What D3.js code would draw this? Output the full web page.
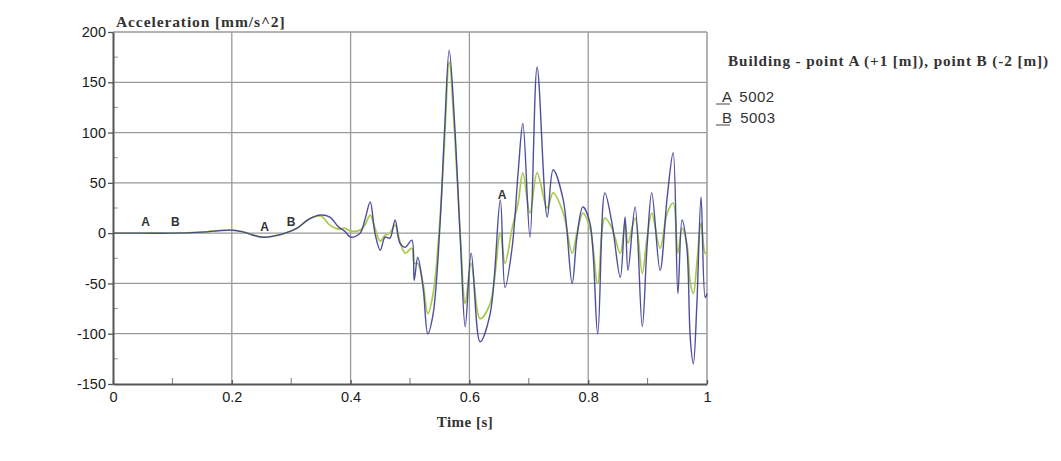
<!DOCTYPE html>
<html><head><meta charset="utf-8">
<script src="https://cdn.jsdelivr.net/npm/d3@7"></script>
<style>body{margin:0;background:#fff}svg{display:block}</style>
</head><body>
<svg id="c" width="1061" height="461"></svg>
<script>
const time = [0,0.05,0.1,0.15,0.2,0.22,0.25,0.27,0.29,0.31,0.33,0.35,0.365,0.38,0.39,0.4,0.416,0.424,0.433,0.441,0.45,0.458,0.466,0.475,0.483,0.492,0.503,0.507,0.513,0.522,0.53,0.539,0.55,0.558,0.566,0.575,0.585,0.593,0.603,0.618,0.635,0.652,0.66,0.672,0.682,0.69,0.702,0.714,0.731,0.741,0.758,0.773,0.781,0.791,0.803,0.816,0.828,0.84,0.854,0.862,0.867,0.879,0.891,0.899,0.907,0.921,0.933,0.943,0.951,0.958,0.966,0.972,0.977,0.983,0.99,0.997,1.0];
const accelA = [0,0,0,1,3,1,-4,-3,0,5,14,18,16,6,2,-4,0,13,31,0,-17,-4,-5,13,-10,-14,-7,-47,-24,-54,-100,-80,3,100,182,110,-10,-93,-20,-108,-80,33,-54,-14,60,109,-4,165,16,63,33,-50,-4,26,10,-100,40,10,-44,16,-37,26,-93,-14,40,-37,36,80,-60,13,-14,-106,-130,-70,36,-64,-60];
const accelB = [0,0,0,1,3,1,-4,-3,0,5,14,17,8,4,5,2,3,8,18,5,-8,-2,0,8,-8,-20,-15,-30,-30,-50,-80,-60,10,90,170,100,-5,-70,-30,-85,-70,0,-30,5,30,60,20,60,25,40,20,-20,0,20,5,-50,15,5,-20,10,-10,15,-40,-5,20,-15,20,30,-20,5,-10,-50,-60,-30,10,-20,-20];
const xTicks = [0,0.2,0.4,0.6,0.8,1];
const xTickLabels = ["0","0.2","0.4","0.6","0.8","1"];
const yTicks = [200,150,100,50,0,-50,-100,-150];
const curveLabelTimes = [0.055,0.105,0.255,0.3,0.655];
const curveLabelValues = [6,6,1,6,33];
const curveLabelText = ["A","B","A","B","A"];
const seriesNames = ["A 5002","B 5003"];

const svg = d3.select("#c");
const L=113,R=707,T=32,B=384;
const x = d3.scaleLinear().domain([0,1]).range([L,R]);
const y = d3.scaleLinear().domain([-150,200]).range([B,T]);
const grid="#9a9a9a";

svg.append("g").selectAll("line").data(xTicks.slice(1,-1)).join("line")
  .attr("x1",d=>x(d)).attr("x2",d=>x(d)).attr("y1",T).attr("y2",B)
  .attr("stroke",grid).attr("stroke-width",1.3);
svg.append("g").selectAll("line").data(yTicks.slice(1,-1)).join("line")
  .attr("x1",L).attr("x2",R).attr("y1",d=>y(d)).attr("y2",d=>y(d))
  .attr("stroke",grid).attr("stroke-width",1.3);
svg.append("line").attr("x1",L).attr("x2",R).attr("y1",T).attr("y2",T).attr("stroke",grid).attr("stroke-width",1.5);
svg.append("line").attr("x1",R).attr("x2",R).attr("y1",T).attr("y2",B).attr("stroke",grid).attr("stroke-width",1.5);

const xMinor = d3.range(0.1,1,0.2);
svg.append("g").selectAll("line").data(xMinor).join("line")
  .attr("x1",d=>x(d)).attr("x2",d=>x(d)).attr("y1",B).attr("y2",B-6)
  .attr("stroke","#777").attr("stroke-width",1);
const yMinor = d3.range(-125,200,50);
svg.append("g").selectAll("line").data(yMinor).join("line")
  .attr("x1",L).attr("x2",L+5).attr("y1",d=>y(d)).attr("y2",d=>y(d))
  .attr("stroke","#999").attr("stroke-width",1);

const lineGen = (arr)=>d3.line().curve(d3.curveCatmullRom.alpha(0.5)).x((d,i)=>x(time[i])).y((d,i)=>y(arr[i]));
svg.append("path").attr("d",lineGen(accelB)(accelB))
  .attr("fill","none").attr("stroke","#a9c94a").attr("stroke-width",1.7).attr("stroke-linejoin","round");
svg.append("path").attr("d",lineGen(accelA)(accelA))
  .attr("fill","none").attr("stroke","#3c3c94").attr("stroke-width",1.4).attr("stroke-linejoin","round").attr("opacity",0.9);

svg.append("g").selectAll("text").data(curveLabelText).join("text")
  .attr("x",(d,i)=>x(curveLabelTimes[i])).attr("y",(d,i)=>y(curveLabelValues[i])-1)
  .attr("text-anchor","middle").attr("font-family","Liberation Sans, Arial, sans-serif")
  .attr("font-size",12).attr("font-weight","bold").attr("fill","#333").text(d=>d);

const xAxis = d3.axisBottom(x).tickValues(xTicks).tickFormat((d,i)=>xTickLabels[i]).tickSize(5).tickSizeOuter(0);
const gx = svg.append("g").attr("transform",`translate(0,${B})`).call(xAxis);
gx.select(".domain").attr("stroke","#555").attr("stroke-width",2);
gx.selectAll(".tick line").attr("stroke","#555").attr("stroke-width",1.3).attr("y2",-4);
gx.selectAll("text").attr("font-family","Liberation Sans, Arial, sans-serif").attr("font-size",14.5).attr("fill","#1a1a1a").attr("dy","0.95em").attr("y",4);

const yAxis = d3.axisLeft(y).tickValues(yTicks).tickFormat(d=>String(d)).tickSize(5).tickSizeOuter(0);
const gy = svg.append("g").attr("transform",`translate(${L},0)`).call(yAxis);
gy.select(".domain").attr("stroke","#555").attr("stroke-width",2);
gy.selectAll(".tick line").attr("stroke","#555").attr("stroke-width",1.3);
gy.selectAll("text").attr("font-family","Liberation Sans, Arial, sans-serif").attr("font-size",14.5).attr("fill","#1a1a1a").attr("x",-7);

svg.append("text").attr("x",116).attr("y",27).attr("font-family","Liberation Serif, Times New Roman, serif")
  .attr("font-weight","bold").attr("font-size",15.5).attr("letter-spacing",0.9).attr("fill","#333").text("Acceleration [mm/s^2]");
svg.append("text").attr("x",465).attr("y",427).attr("text-anchor","middle").attr("font-family","Liberation Serif, Times New Roman, serif")
  .attr("font-weight","bold").attr("font-size",15).attr("letter-spacing",0.5).attr("fill","#333").text("Time [s]");

svg.append("text").attr("x",728).attr("y",66).attr("font-family","Liberation Serif, Times New Roman, serif")
  .attr("font-weight","bold").attr("font-size",15.2).attr("letter-spacing",0.9).attr("fill","#333").text("Building - point A (+1 [m]), point B (-2 [m])");
const lg = svg.append("g").selectAll("g").data(seriesNames).join("g")
  .attr("transform",(d,i)=>`translate(716,${102+i*21})`);
lg.append("line").attr("x1",0).attr("x2",14).attr("y1",2).attr("y2",2).attr("stroke","#444").attr("stroke-width",1);
lg.append("text").attr("x",6).attr("y",0).attr("font-family","Liberation Sans, Arial, sans-serif")
  .attr("font-size",15).attr("fill","#333").attr("letter-spacing",0.5).attr("word-spacing",3).text(d=>d);
</script>
</body></html>
